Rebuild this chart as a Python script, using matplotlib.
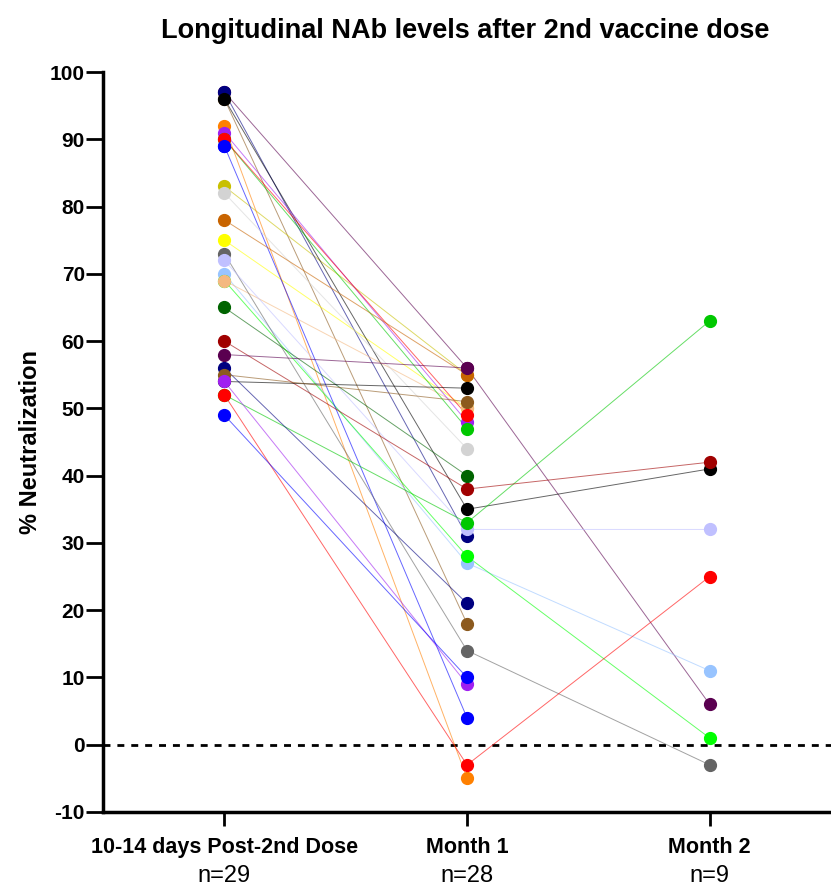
import numpy as np
import matplotlib
matplotlib.use('Agg')
import matplotlib.pyplot as plt
import matplotlib.transforms as mtransforms

plt.rcParams['font.family'] = ['Liberation Sans', 'DejaVu Sans']
plt.rcParams['axes.unicode_minus'] = False

# time points
timepoints = ['10-14 days Post-2nd Dose', 'Month 1', 'Month 2']
n_labels = ['n=29', 'n=28', 'n=9']

# one entry per subject (draw order: first = bottom)
nan = np.nan
subject_colors = [
    '#5A0050', '#8C5A1E', '#0000FF', '#C8C000', '#FFFF00',
    '#000080', '#000000', '#FF8000', '#98C4FF', '#00FF00',
    '#F4B880', '#A020F0', '#00C800', '#FF0000', '#0000FF',
    '#D3D3D3', '#C86400', '#646464', '#C0C0FF', '#00C800',
    '#006400', '#A00000', '#5A0050', '#000080', '#000000',
    '#8C5A1E', '#A020F0', '#FF0000', '#0000FF',
]
day10 = [97, 96, 89, 83, 75,
         97, 96, 92, 70, 69,
         69, 91, 90, 90, 89,
         82, 78, 73, 72, 52,
         65, 60, 58, 56, 54,
         55, 54, 52, 49]
month1 = [56, 18, nan, 55, 50,
          31, 35, -5, 27, 28,
          50, 48, 47, 49, 4,
          44, 55, 14, 32, 33,
          40, 38, 56, 21, 53,
          51, 9, -3, 10]
month2 = [6, nan, nan, nan, nan,
          nan, 41, nan, 11, 1,
          nan, nan, nan, nan, nan,
          nan, nan, -3, 32, 63,
          nan, 42, nan, nan, nan,
          nan, nan, 25, nan]

fig = plt.figure(figsize=(8.31, 8.88), dpi=100)
ax = fig.add_axes([0.124, 0.0856, 0.876, 0.8333])

x = np.arange(len(timepoints))
for c, a, b, d in zip(subject_colors, day10, month1, month2):
    vals = np.array([a, b, d], dtype=float)
    ax.plot(x, vals, color=c, lw=0.7, alpha=0.6, zorder=2)
for i, (c, a, b, d) in enumerate(zip(subject_colors, day10, month1, month2)):
    vals = np.array([a, b, d], dtype=float)
    ax.plot(x, vals, ls='none', marker='o', ms=8.5, mfc=c, mec=c, zorder=3 + i * 0.01)

ax.axhline(0, color='black', lw=2, ls=(0, (2.5, 2.5)), zorder=1)

ax.set_xlim(-0.5, 2.5)
ax.set_ylim(-10, 100)
ax.set_yticks(np.arange(-10, 101, 10))
ax.set_xticks(x)
ax.set_xticklabels(timepoints, fontsize=15.5, fontweight='bold')
for lab in ax.get_yticklabels():
    lab.set_fontweight('bold')
ax.tick_params(axis='y', labelsize=15, length=12, width=2, pad=1)
ax.tick_params(axis='x', length=10, width=2, pad=8)

for s in ['top', 'right']:
    ax.spines[s].set_visible(False)
for s in ['left', 'bottom']:
    ax.spines[s].set_linewidth(2.5)

ax.set_ylabel('% Neutralization', fontsize=17, fontweight='bold', labelpad=6)
fig.suptitle('Longitudinal NAb levels after 2nd vaccine dose', x=0.56, y=0.98,
             fontsize=19.5, fontweight='bold')

trans = mtransforms.blended_transform_factory(ax.transData, fig.transFigure)
for xi, nl in zip(x, n_labels):
    ax.text(xi, 0.0135, nl, transform=trans, ha='center', va='center', fontsize=17)

fig.savefig('out.png', dpi=100)
